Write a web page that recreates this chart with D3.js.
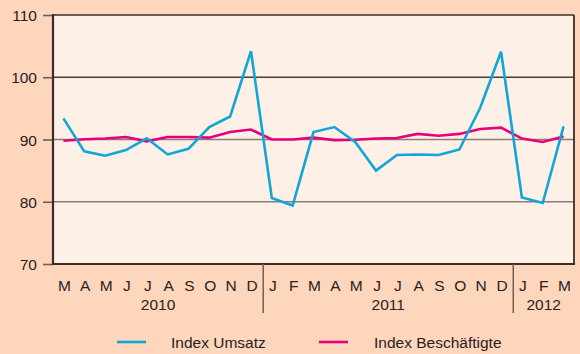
<!DOCTYPE html>
<html>
<head>
<meta charset="utf-8">
<script src="https://cdn.jsdelivr.net/npm/d3@7"></script>
<style>
  html, body { margin: 0; padding: 0; background: #fdd6bc; }
  svg { display: block; }
  text { font-family: "Liberation Sans", Arial, sans-serif; fill: #2b211c; }
</style>
</head>
<body>
<svg id="chart" width="580" height="354"></svg>
<script>
// Monthly index values, March 2010 – March 2012
const months = ["M","A","M","J","J","A","S","O","N","D",
                "J","F","M","A","M","J","J","A","S","O","N","D",
                "J","F","M"];
const years = [
  { label: "2010", first: 0, last: 9 },
  { label: "2011", first: 10, last: 21 },
  { label: "2012", first: 22, last: 24 }
];
const umsatz = [93.4, 88.1, 87.4, 88.3, 90.2, 87.6, 88.5, 92.0, 93.7, 104.2,
                80.6, 79.4, 91.2, 92.0, 89.6, 85.0, 87.5, 87.6, 87.5, 88.4, 95.1, 104.1,
                80.7, 79.8, 92.1];
const beschaeftigte = [89.8, 90.05, 90.15, 90.4, 89.7, 90.4, 90.4, 90.3, 91.2, 91.6,
                       90.0, 90.0, 90.3, 89.9, 89.95, 90.15, 90.25, 90.9, 90.6, 90.9, 91.7, 91.9,
                       90.15, 89.6, 90.5];
const yTicks = [70, 80, 90, 100, 110];
const seriesNames = ["Index Umsatz", "Index Beschäftigte"];

const svg = d3.select("#chart");
const plotL = 53, plotR = 574, plotT = 15, plotB = 264;

const x = d3.scaleBand().domain(d3.range(months.length)).range([plotL, plotR]);
const cx = i => x(i) + x.bandwidth() / 2;
const y = d3.scaleLinear().domain([70, 110]).range([plotB, plotT]);

// plot background
svg.append("rect")
  .attr("x", plotL).attr("y", plotT)
  .attr("width", plotR - plotL).attr("height", plotB - plotT)
  .attr("fill", "#fdf1e7");

// horizontal grid lines
svg.append("g").selectAll("line")
  .data(yTicks.filter(t => t > 70 && t < 110))
  .join("line")
  .attr("x1", plotL).attr("x2", plotR)
  .attr("y1", d => y(d)).attr("y2", d => y(d))
  .attr("stroke", d => d === 100 ? "#4a3b33" : "#8a7d75")
  .attr("stroke-width", 1.6);

// y axis
const yAxis = svg.append("g")
  .attr("transform", `translate(${plotL},0)`)
  .call(d3.axisLeft(y).tickValues(yTicks).tickSize(10).tickPadding(6));
yAxis.select(".domain").remove();
yAxis.selectAll(".tick line").attr("stroke", "#6e5f56").attr("stroke-width", 1.6);
yAxis.selectAll(".tick text")
  .style("font-size", "15.5px")
  .style("font-family", "'Liberation Sans', Arial, sans-serif")
  .attr("fill", "#2b211c")
  .attr("dy", "0.36em");

// frame
svg.append("line").attr("x1", plotL).attr("x2", plotR).attr("y1", plotT).attr("y2", plotT)
  .attr("stroke", "#3b2c24").attr("stroke-width", 1.6);
svg.append("line").attr("x1", plotR).attr("x2", plotR).attr("y1", plotT).attr("y2", plotB)
  .attr("stroke", "#3b2c24").attr("stroke-width", 1.8);
svg.append("line").attr("x1", plotL).attr("x2", plotL).attr("y1", plotT - 1).attr("y2", plotB + 1)
  .attr("stroke", "#3b2c24").attr("stroke-width", 2.2);
svg.append("line").attr("x1", plotL).attr("x2", plotR + 1).attr("y1", plotB).attr("y2", plotB)
  .attr("stroke", "#3b2c24").attr("stroke-width", 2.2);

// month labels
svg.append("g").selectAll("text")
  .data(months)
  .join("text")
  .attr("x", (d, i) => cx(i) + 1)
  .attr("y", 291)
  .attr("text-anchor", "middle")
  .style("font-size", "15.5px")
  .text(d => d);

// year separators and labels
const sepX = i => x(i) + 1.8;
svg.append("g").selectAll("line")
  .data(years.slice(1))
  .join("line")
  .attr("x1", d => sepX(d.first)).attr("x2", d => sepX(d.first))
  .attr("y1", plotB).attr("y2", 313)
  .attr("stroke", "#6e5f56").attr("stroke-width", 1.5);

svg.append("g").selectAll("text")
  .data(years)
  .join("text")
  .attr("x", d => {
    const a = d.first === 0 ? plotL : sepX(d.first);
    const b = d.last === months.length - 1 ? plotR : sepX(d.last + 1);
    return (a + b) / 2;
  })
  .attr("y", 310)
  .attr("text-anchor", "middle")
  .style("font-size", "15.5px")
  .text(d => d.label);

// series lines
const line = d3.line().x((d, i) => cx(i)).y(d => y(d));
const colors = ["#12a5d8", "#e6007e"];

svg.append("path").datum(beschaeftigte)
  .attr("d", line).attr("fill", "none")
  .attr("stroke", colors[1]).attr("stroke-width", 2.6)
  .attr("stroke-linejoin", "miter");
svg.append("path").datum(umsatz)
  .attr("d", line).attr("fill", "none")
  .attr("stroke", colors[0]).attr("stroke-width", 2.6)
  .attr("stroke-linejoin", "miter");

// legend
const legend = [
  { name: seriesNames[0], color: colors[0], x0: 117, tx: 171 },
  { name: seriesNames[1], color: colors[1], x0: 319, tx: 374 }
];
const lg = svg.append("g").selectAll("g").data(legend).join("g");
lg.append("line")
  .attr("x1", d => d.x0).attr("x2", d => d.x0 + 29)
  .attr("y1", 342).attr("y2", 342)
  .attr("stroke", d => d.color).attr("stroke-width", 2.6);
lg.append("text")
  .attr("x", d => d.tx).attr("y", 347.5)
  .style("font-size", "15.5px")
  .text(d => d.name);
</script>
</body>
</html>
